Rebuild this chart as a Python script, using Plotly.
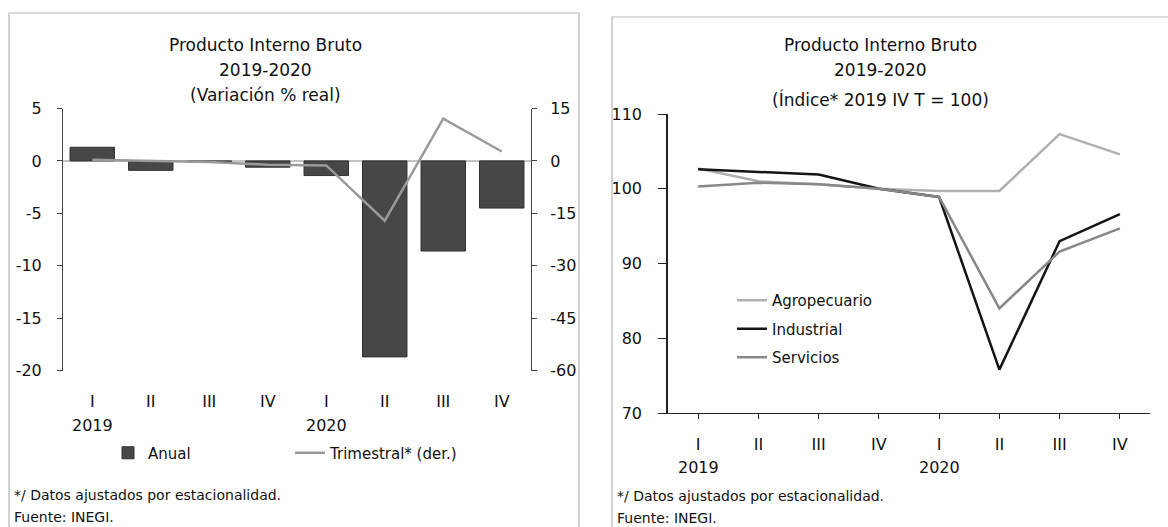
import plotly.graph_objects as go

W, H = 1168, 527

# datos
trimestres = ["I", "II", "III", "IV", "I", "II", "III", "IV"]
anios = ["2019", "2020"]
anual = [1.3, -0.9, -0.1, -0.6, -1.4, -18.7, -8.6, -4.5]
trimestral = [0.3, 0.0, -0.3, -1.1, -1.3, -17.1, 12.1, 2.7]

agropecuario = [102.7, 101.0, 100.6, 100.0, 99.7, 99.7, 107.3, 104.6]
industrial = [102.6, 102.2, 101.9, 100.0, 98.9, 75.8, 93.0, 96.6]
servicios = [100.3, 100.8, 100.6, 100.0, 98.9, 84.0, 91.6, 94.7]

ticks_izq = [5, 0, -5, -10, -15, -20]
ticks_der = [15, 0, -15, -30, -45, -60]
ticks_indice = [110, 100, 90, 80, 70]

FONT = "DejaVu Sans"
x_idx = list(range(len(trimestres)))
pos_anio = [0, 4]


def px(x):
    return x / W


def py(y):
    return 1 - y / H


fig = go.Figure()

# panel izquierdo
fig.add_trace(go.Bar(
    x=x_idx, y=anual, name="Anual",
    marker=dict(color="#474747", line=dict(color="#303030", width=1)),
    width=0.76, xaxis="x", yaxis="y", legend="legend",
))
fig.add_trace(go.Scatter(
    x=x_idx, y=trimestral, name="Trimestral* (der.)", mode="lines",
    line=dict(color="#9a9a9a", width=2.5), xaxis="x", yaxis="y2", legend="legend",
))

# panel derecho
for nombre, serie, color in [("Agropecuario", agropecuario, "#b0b0b0"),
                             ("Industrial", industrial, "#141414"),
                             ("Servicios", servicios, "#878787")]:
    fig.add_trace(go.Scatter(
        x=x_idx, y=serie, name=nombre, mode="lines",
        line=dict(color=color, width=2.5), xaxis="x2", yaxis="y3",
        legend="legend2", legendgroup=nombre,
    ))

tick_font = dict(family=FONT, size=16, color="#111111")

fig.update_layout(
    width=W, height=H,
    margin=dict(l=0, r=0, t=0, b=0, autoexpand=False),
    paper_bgcolor="white", plot_bgcolor="white",
    font=dict(family=FONT, color="#111111"),
    xaxis=dict(
        domain=[px(63), px(531)], range=[-0.5, 7.5],
        tickvals=x_idx, ticktext=trimestres, tickfont=tick_font,
        showline=False, showgrid=False, zeroline=False, ticks="",
        anchor="y", ticklabelstandoff=19, automargin=False,
    ),
    yaxis=dict(
        domain=[py(370.5), py(108.5)], range=[-20, 5],
        tickvals=ticks_izq, ticktext=[str(v) for v in ticks_izq],
        tickfont=tick_font, showgrid=False, zeroline=True,
        zerolinecolor="#c4c4c4", zerolinewidth=1.5,
        showline=True, linecolor="#444444", linewidth=1,
        ticks="outside", ticklen=5, tickcolor="#444444",
        anchor="x", ticklabelstandoff=12, automargin=False,
    ),
    yaxis2=dict(
        range=[-60, 15], overlaying="y", side="right",
        tickvals=ticks_der, ticktext=[str(v) for v in ticks_der],
        tickfont=tick_font, showgrid=False, zeroline=False,
        showline=True, linecolor="#444444", linewidth=1,
        ticks="outside", ticklen=5, tickcolor="#444444",
        anchor="x", ticklabelstandoff=10, automargin=False,
    ),
    xaxis2=dict(
        domain=[px(668), px(1150)], range=[-0.5, 7.5],
        tickvals=x_idx, ticktext=trimestres, tickfont=tick_font,
        showline=True, linecolor="#222222", linewidth=1,
        showgrid=False, zeroline=False,
        ticks="outside", ticklen=5, tickcolor="#222222", tickson="boundaries",
        anchor="y3", ticklabelstandoff=12, automargin=False,
    ),
    yaxis3=dict(
        domain=[py(413), py(114)], range=[70, 110],
        tickvals=ticks_indice, ticktext=[str(v) for v in ticks_indice],
        tickfont=tick_font, showgrid=False, zeroline=False,
        showline=True, linecolor="#222222", linewidth=1.5,
        ticks="outside", ticklen=8, tickcolor="#222222",
        anchor="x2", ticklabelstandoff=13, automargin=False,
    ),
    legend=dict(
        orientation="h", x=px(108), y=py(453), xanchor="left", yanchor="middle",
        font=dict(family=FONT, size=15, color="#111111"),
        entrywidth=137, entrywidthmode="pixels", bgcolor="rgba(0,0,0,0)",
    ),
    legend2=dict(
        orientation="v", x=px(732), y=py(284), xanchor="left", yanchor="top",
        font=dict(family=FONT, size=15, color="#111111"),
        tracegroupgap=6, bgcolor="rgba(0,0,0,0)",
    ),
)

# años bajo las etiquetas de trimestre
for eje, y_anio in [("x", 425), ("x2", 467)]:
    for pos, anio in zip(pos_anio, anios):
        fig.add_annotation(text=anio, x=pos, y=py(y_anio), xref=eje, yref="paper",
                           showarrow=False, xanchor="center", yanchor="middle",
                           font=tick_font)

titulo = dict(family=FONT, size=17, color="#111111")
for cx, ys, lineas in [(265, [45, 70, 95], ["Producto Interno Bruto", "2019-2020", "(Variación % real)"]),
                       (880, [45, 70, 99], ["Producto Interno Bruto", "2019-2020", "(Índice* 2019 IV T = 100)"])]:
    for yy, texto in zip(ys, lineas):
        fig.add_annotation(
            text=texto, x=px(cx), y=py(yy), xref="paper", yref="paper",
            showarrow=False, xanchor="center", yanchor="middle", font=titulo,
        )

nota = dict(family=FONT, size=14, color="#111111")
for x0, y0 in [(12, 495), (615, 496)]:
    fig.add_annotation(text="*/ Datos ajustados por estacionalidad.", x=px(x0), y=py(y0),
                       xref="paper", yref="paper", showarrow=False,
                       xanchor="left", yanchor="middle", font=nota)
    fig.add_annotation(text="Fuente: INEGI.", x=px(x0), y=py(y0 + 22),
                       xref="paper", yref="paper", showarrow=False,
                       xanchor="left", yanchor="middle", font=nota)

# marcos de los paneles
for x0, y0, x1 in [(9, 13, 579), (612, 17, 1172)]:
    fig.add_shape(type="rect", xref="paper", yref="paper",
                  x0=px(x0), x1=px(x1), y0=py(y0), y1=-0.05,
                  line=dict(color="#b5b5b5", width=1.2), layer="below")

fig.write_html("out.html", config={"displayModeBar": False},
               post_script="document.body.style.margin='0';document.body.style.padding='0';")
